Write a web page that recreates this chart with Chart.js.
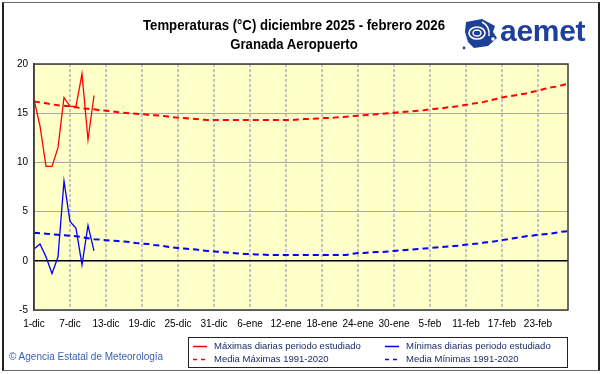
<!DOCTYPE html>
<html><head><meta charset="utf-8">
<script src="https://cdn.jsdelivr.net/npm/chart.js@4.4.1/dist/chart.umd.min.js"></script>
<style>
html,body{margin:0;padding:0;background:#fff;width:601px;height:374px;overflow:hidden;font-family:"Liberation Sans",Arial,sans-serif;}
#frame{position:absolute;left:2px;top:2px;width:594px;height:367px;border:1px solid #6a6a6a;border-left:2px solid #222;border-right:2px solid #222;}
#wrap{position:absolute;left:0;top:0;width:601px;height:374px;}
#title{position:absolute;left:0;width:588px;top:16px;text-align:center;font-family:"Liberation Sans",Arial,sans-serif;font-weight:bold;font-size:14px;line-height:19px;color:#000;transform:scaleX(0.94);transform-origin:294px 0;}
#logo{position:absolute;left:462px;top:14px;width:130px;height:36px;}
#logotxt{position:absolute;left:38px;top:0px;font-family:"Liberation Sans",Arial,sans-serif;font-weight:bold;font-size:30px;color:#1e3f9a;letter-spacing:-0.3px;}
#legend{position:absolute;left:188px;top:337px;width:378px;height:29px;border:1px solid #222;background:#fff;font-size:9.5px;color:#1c2a6a;}
.it{position:absolute;height:12px;line-height:12px;white-space:nowrap;}
.it svg{position:absolute;left:0;top:0;}
.it span{position:absolute;left:21px;top:0;}
#copy{position:absolute;left:9px;top:351px;font-size:10px;color:#3a5fb4;}
</style></head>
<body>
<div id="wrap"><canvas id="c" width="601" height="374"></canvas></div>
<div id="frame"></div>
<div id="title">Temperaturas (°C) diciembre 2025 - febrero 2026<br>Granada Aeropuerto</div>
<div id="logo">
<svg width="38" height="36" viewBox="0 0 38 36" style="position:absolute;left:0;top:2px">
<path d="M4 6 L20 3 L33 10 L31 16 L35 22 L26 30 L12 32 L6 26 L3 16 Z" fill="#1e3f9a"/>
<ellipse cx="15" cy="17" rx="8" ry="6" fill="none" stroke="#fff" stroke-width="1.6"/>
<ellipse cx="15" cy="17" rx="4" ry="3" fill="none" stroke="#fff" stroke-width="1.4"/>
<path d="M20 6 Q28 10 27 20" fill="none" stroke="#fff" stroke-width="1.4"/>
<circle cx="31" cy="23" r="1.8" fill="#fff"/>
<circle cx="2" cy="32" r="1.4" fill="#1e3f9a"/>
</svg>
<div id="logotxt">aemet</div>
</div>
<div id="legend">
 <div class="it" style="left:4px;top:2px"><svg width="16" height="12"><line x1="0" y1="6.5" x2="14" y2="6.5" stroke="#ff0000" stroke-width="1.5"/></svg><span>Máximas diarias periodo estudiado</span></div>
 <div class="it" style="left:196px;top:2px"><svg width="16" height="12"><line x1="0" y1="6.5" x2="14" y2="6.5" stroke="#0000ff" stroke-width="1.5"/></svg><span>Mínimas diarias periodo estudiado</span></div>
 <div class="it" style="left:4px;top:15px"><svg width="16" height="12"><line x1="0" y1="6.5" x2="14" y2="6.5" stroke="#ff0000" stroke-width="1.5" stroke-dasharray="4,4"/></svg><span>Media Máximas 1991-2020</span></div>
 <div class="it" style="left:196px;top:15px"><svg width="16" height="12"><line x1="0" y1="6.5" x2="14" y2="6.5" stroke="#0000ff" stroke-width="1.5" stroke-dasharray="4,4"/></svg><span>Media Mínimas 1991-2020</span></div>
</div>
<div id="copy">© Agencia Estatal de Meteorología</div>
<script>
// Categories: days from 1-dic to 28-feb
const months = [["dic",31],["ene",31],["feb",28]];
const days = [];
for (const [m,n] of months) for (let d=1; d<=n; d++) days.push(d+"-"+m);

// Daily maxima / minima observed (1-dic .. 11-dic)
const maxDaily = [16.4,13.7,9.6,9.6,11.5,16.6,15.7,15.7,19.0,12.3,16.8];
const minDaily = [1.2,1.7,0.4,-1.3,0.4,8.1,4.0,3.3,-0.4,3.6,1.0];

// Climatological means 1991-2020 (one value per day)
const meanMax = [
16.2,16.1,16.0,15.9,15.8,15.75,15.7,15.6,15.5,15.45,15.4,15.3,15.25,15.2,15.1,15.05,15.0,14.95,14.9,14.85,
14.8,14.75,14.7,14.6,14.55,14.5,14.45,14.4,14.35,14.3,14.3,14.3,14.3,14.3,14.3,14.3,14.3,14.3,14.3,14.3,
14.3,14.3,14.3,14.3,14.35,14.4,14.4,14.45,14.5,14.5,14.55,14.6,14.65,14.7,14.75,14.8,14.85,14.9,14.95,15.0,
15.05,15.1,15.15,15.2,15.25,15.3,15.4,15.45,15.5,15.6,15.65,15.75,15.85,15.95,16.05,16.15,16.3,16.45,16.6,16.7,
16.8,16.9,17.0,17.15,17.3,17.45,17.6,17.7,17.85,18.0];
const meanMin = [
2.85,2.8,2.75,2.7,2.65,2.6,2.55,2.5,2.4,2.3,2.2,2.15,2.1,2.05,2.0,1.95,1.9,1.8,1.75,1.7,
1.6,1.55,1.45,1.35,1.3,1.25,1.2,1.15,1.05,1.0,0.95,0.9,0.85,0.8,0.75,0.7,0.7,0.65,0.65,0.6,
0.6,0.6,0.6,0.6,0.6,0.6,0.6,0.6,0.6,0.6,0.6,0.6,0.6,0.7,0.8,0.8,0.85,0.9,0.9,0.95,
1.0,1.05,1.1,1.15,1.2,1.25,1.3,1.35,1.4,1.45,1.5,1.55,1.65,1.7,1.75,1.85,1.9,2.0,2.1,2.2,
2.3,2.4,2.5,2.55,2.65,2.7,2.75,2.85,2.95,3.0];

const yMin = -5, yMax = 20, yStep = 5;
const tickEvery = 6;

const bgPlugin = {
  id:'bg',
  beforeDraw(chart){
    const {ctx, chartArea:a} = chart;
    ctx.save();
    ctx.fillStyle = '#FFFFC8';
    ctx.fillRect(a.left, a.top, a.right-a.left, a.bottom-a.top);
    ctx.restore();
  },
  afterDatasetsDraw(chart){
    const {ctx, chartArea:a} = chart;
    ctx.save();
    ctx.strokeStyle = '#3c3c3c';
    ctx.lineWidth = 1.5;
    ctx.strokeRect(a.left, a.top, a.right-a.left, a.bottom-a.top);
    ctx.restore();
  }
};

new Chart(document.getElementById('c'), {
  type:'line',
  data:{
    labels: days,
    datasets:[
      {data:maxDaily, borderColor:'#ff0000', borderWidth:1.3, pointRadius:0, tension:0, order:1},
      {data:minDaily, borderColor:'#0000ff', borderWidth:1.3, pointRadius:0, tension:0, order:2},
      {data:meanMax, borderColor:'#ff0000', borderWidth:2, borderDash:[6,4], pointRadius:0, tension:0, order:3},
      {data:meanMin, borderColor:'#0000ff', borderWidth:2, borderDash:[6,4], pointRadius:0, tension:0, order:4}
    ]
  },
  options:{
    responsive:false, animation:false, devicePixelRatio:1,
    layout:{padding:{left:0,right:33,top:64,bottom:44}},
    plugins:{legend:{display:false}, tooltip:{enabled:false}},
    scales:{
      x:{
        offset:false,
        grid:{drawTicks:false,
          color:c => (c.index>0 && c.index%tickEvery===0) ? '#c4c4c4' : 'rgba(0,0,0,0)',
          lineWidth:2},
        border:{display:false, dash:[3,2]},
        ticks:{autoSkip:false, maxRotation:0, padding:8, color:'#000',
          font:{family:'"Liberation Sans", Arial, sans-serif', size:10},
          callback:(v,i) => i%tickEvery===0 && i<days.length-3 ? days[i] : ''},
        afterFit:s => { s.height = 20; }
      },
      y:{
        min:yMin, max:yMax,
        grid:{drawTicks:false,
          color:c => c.tick.value===0 ? '#000' : '#a8a8a8',
          lineWidth:c => c.tick.value===0 ? 1.5 : 1},
        border:{display:true, color:'#3c3c3c', width:1.5},
        ticks:{stepSize:yStep, padding:6, color:'#000',
          font:{family:'"Liberation Sans", Arial, sans-serif', size:10}},
        afterFit:s => { s.width = 34; }
      }
    }
  },
  plugins:[bgPlugin]
});
</script>
</body></html>
